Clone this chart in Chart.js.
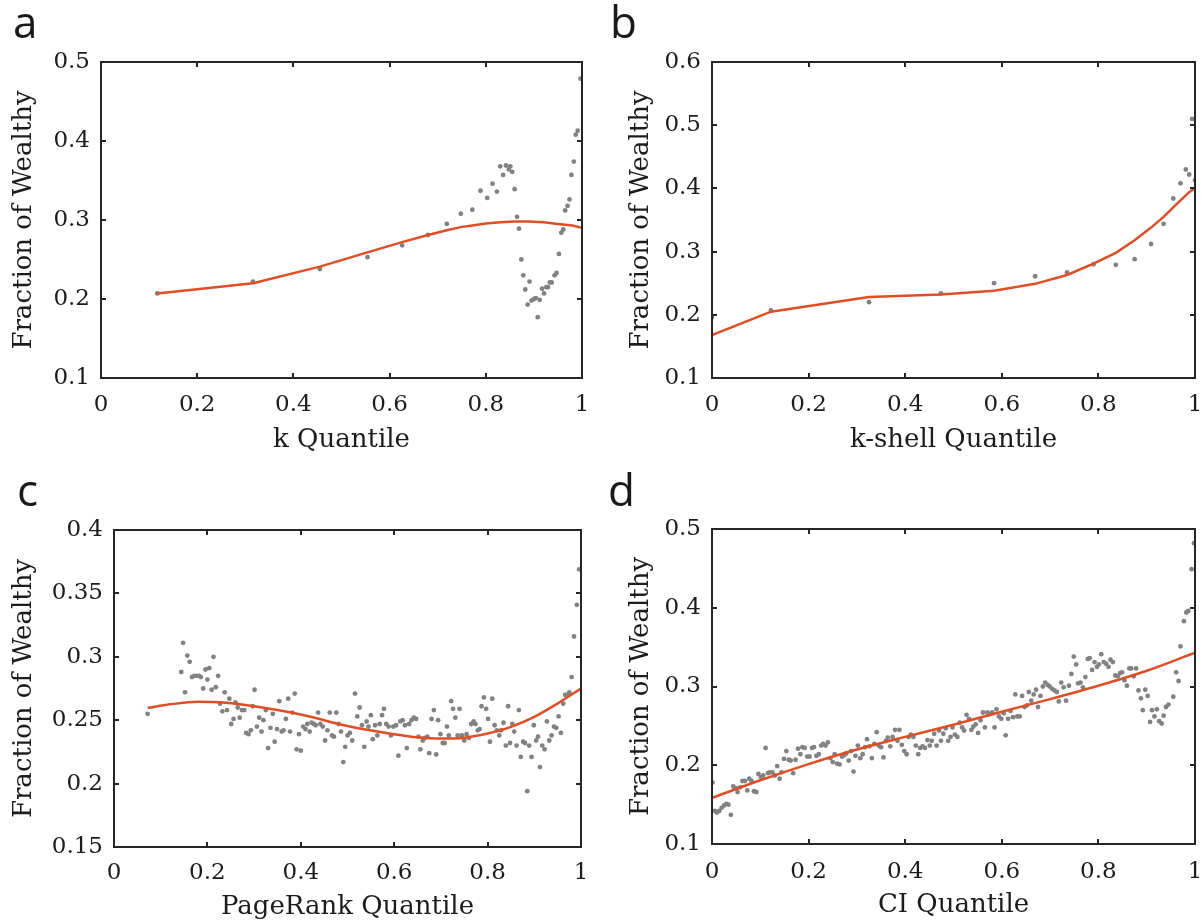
<!DOCTYPE html>
<html>
<head>
<meta charset="utf-8">
<script src="https://cdn.jsdelivr.net/npm/chart.js@4.4.1/dist/chart.umd.min.js"></script>
<style>
  html, body { margin:0; padding:0; background:#fff; }
  #wrap { position:relative; width:1202px; height:924px; overflow:hidden; }
  .panel { position:absolute; width:601px; height:462px; }
</style>
</head>
<body>
<div id="wrap">
  <div class="panel" style="left:0;top:0"><canvas id="pa" width="601" height="462"></canvas></div>
  <div class="panel" style="left:601px;top:0"><canvas id="pb" width="601" height="462"></canvas></div>
  <div class="panel" style="left:0;top:462px"><canvas id="pc" width="601" height="462"></canvas></div>
  <div class="panel" style="left:601px;top:462px"><canvas id="pd" width="601" height="462"></canvas></div>
</div>
<script>
/* ---------- data ---------- */

// a: degree k
const kQ = [0.117,0.316,0.455,0.554,0.626,0.680,0.719,0.748,0.772,0.789,0.803,0.814,0.823,0.830,0.836,0.842,0.848,0.851,0.855,0.860,0.865,0.869,0.874,0.878,0.882,0.887,0.891,0.895,0.900,0.904,0.908,0.912,0.917,0.921,0.926,0.929,0.933,0.937,0.943,0.947,0.952,0.957,0.961,0.965,0.970,0.974,0.978,0.983,0.987,0.991,0.997];
const kW = [0.207,0.222,0.238,0.253,0.268,0.281,0.295,0.308,0.313,0.337,0.328,0.346,0.336,0.368,0.357,0.369,0.364,0.368,0.361,0.339,0.304,0.289,0.250,0.230,0.212,0.193,0.222,0.198,0.200,0.201,0.177,0.199,0.213,0.207,0.215,0.215,0.221,0.221,0.230,0.233,0.257,0.284,0.288,0.312,0.318,0.326,0.357,0.374,0.408,0.413,0.479];
const kFitQ = [0.117,0.316,0.455,0.554,0.626,0.680,0.719,0.748,0.772,0.800,0.830,0.860,0.890,0.920,0.950,0.980,1.0];
const kFitW = [0.207,0.220,0.241,0.259,0.272,0.281,0.287,0.291,0.293,0.2955,0.297,0.298,0.298,0.297,0.295,0.293,0.290];

// b: k-shell
const shellQ = [0,0.122,0.325,0.474,0.584,0.669,0.735,0.790,0.836,0.875,0.909,0.935,0.955,0.970,0.981,0.988,0.994,1.0];
const shellW = [0.196,0.207,0.220,0.234,0.250,0.261,0.267,0.280,0.279,0.288,0.312,0.344,0.384,0.408,0.430,0.422,0.510,0.413];
const shellFitQ = [0,0.122,0.325,0.474,0.584,0.669,0.735,0.790,0.836,0.875,0.909,0.935,0.955,0.970,0.981,0.988,0.995,1.0];
const shellFitW = [0.168,0.205,0.228,0.232,0.238,0.249,0.263,0.281,0.298,0.318,0.338,0.355,0.370,0.381,0.389,0.394,0.398,0.401];

// c: PageRank
const prQ = [0.072,0.144,0.148,0.152,0.157,0.162,0.167,0.172,0.177,0.182,0.186,0.191,0.196,0.200,0.204,0.209,0.213,0.218,0.223,0.227,
  0.232,0.237,0.242,0.247,0.251,0.256,0.260,0.265,0.269,0.274,0.279,0.283,0.288,0.293,0.297,0.301,0.306,0.311,0.316,0.320,
  0.325,0.330,0.335,0.340,0.344,0.349,0.354,0.359,0.363,0.368,0.373,0.377,0.382,0.387,0.391,0.396,0.400,0.405,0.410,0.414,
  0.419,0.423,0.428,0.432,0.437,0.442,0.447,0.452,0.457,0.462,0.467,0.471,0.476,0.481,0.486,0.491,0.495,0.500,0.505,0.510,
  0.516,0.521,0.526,0.531,0.536,0.541,0.545,0.550,0.554,0.559,0.564,0.569,0.574,0.578,0.583,0.588,0.593,0.598,0.604,0.609,
  0.613,0.618,0.623,0.627,0.632,0.637,0.642,0.647,0.652,0.656,0.661,0.666,0.671,0.675,0.680,0.685,0.690,0.694,0.699,0.704,
  0.708,0.713,0.717,0.722,0.726,0.731,0.736,0.740,0.745,0.750,0.755,0.760,0.765,0.770,0.774,0.779,0.783,0.787,0.792,0.797,
  0.801,0.805,0.810,0.815,0.820,0.825,0.829,0.834,0.839,0.844,0.848,0.853,0.857,0.862,0.867,0.871,0.876,0.880,0.885,0.889,
  0.894,0.899,0.904,0.908,0.912,0.917,0.922,0.927,0.932,0.937,0.942,0.947,0.952,0.957,0.962,0.966,0.971,0.975,0.980,0.985,
  0.991,0.996];
const prW = [0.255,0.288,0.311,0.272,0.301,0.296,0.284,0.285,0.285,0.285,0.284,0.275,0.290,0.282,0.291,0.274,0.300,0.276,0.285,0.263,
  0.257,0.272,0.258,0.267,0.247,0.251,0.264,0.260,0.252,0.258,0.258,0.240,0.239,0.242,0.261,0.274,0.245,0.252,0.241,0.250,
  0.258,0.228,0.244,0.255,0.233,0.243,0.265,0.241,0.242,0.251,0.267,0.241,0.256,0.271,0.227,0.239,0.226,0.245,0.243,0.247,
  0.241,0.248,0.247,0.246,0.256,0.247,0.245,0.234,0.242,0.256,0.238,0.237,0.256,0.247,0.241,0.217,0.229,0.238,0.240,0.234,
  0.271,0.253,0.260,0.246,0.229,0.249,0.245,0.254,0.235,0.246,0.238,0.247,0.254,0.259,0.247,0.245,0.238,0.245,0.246,0.222,
  0.249,0.250,0.246,0.228,0.247,0.250,0.252,0.251,0.237,0.227,0.234,0.236,0.237,0.224,0.251,0.258,0.223,0.250,0.239,0.232,
  0.232,0.245,0.238,0.265,0.259,0.252,0.238,0.259,0.238,0.234,0.239,0.236,0.247,0.249,0.247,0.242,0.243,0.261,0.268,0.259,
  0.251,0.233,0.267,0.246,0.242,0.238,0.242,0.248,0.230,0.261,0.232,0.247,0.241,0.230,0.258,0.221,0.233,0.232,0.194,0.230,
  0.221,0.246,0.234,0.237,0.213,0.230,0.227,0.249,0.234,0.238,0.245,0.244,0.253,0.240,0.263,0.270,0.270,0.272,0.284,0.316,
  0.341,0.369];
const prFitQ = [0.072,0.12,0.18,0.24,0.30,0.40,0.50,0.60,0.65,0.70,0.75,0.80,0.85,0.90,0.95,1.0];
const prFitW = [0.2597,0.2625,0.2645,0.2638,0.2610,0.2545,0.2455,0.2390,0.2365,0.2355,0.2362,0.2395,0.2447,0.2526,0.2632,0.2750];

// d: CI
const ciQ = [0.001,0.006,0.010,0.015,0.020,0.025,0.030,0.034,0.039,0.044,0.049,0.053,0.058,0.063,0.068,0.073,0.077,0.082,0.087,0.092,
  0.096,0.101,0.106,0.111,0.116,0.120,0.125,0.130,0.135,0.140,0.144,0.149,0.154,0.159,0.163,0.168,0.173,0.178,0.183,0.187,
  0.192,0.197,0.202,0.207,0.211,0.216,0.221,0.226,0.230,0.235,0.240,0.245,0.250,0.254,0.259,0.264,0.269,0.274,0.278,0.283,
  0.288,0.293,0.297,0.302,0.307,0.312,0.317,0.321,0.326,0.331,0.336,0.341,0.345,0.350,0.355,0.360,0.364,0.369,0.374,0.379,
  0.384,0.388,0.393,0.398,0.403,0.407,0.412,0.417,0.422,0.427,0.431,0.436,0.441,0.446,0.451,0.455,0.460,0.465,0.470,0.474,
  0.479,0.484,0.489,0.494,0.498,0.503,0.508,0.513,0.518,0.522,0.527,0.532,0.537,0.541,0.546,0.551,0.556,0.561,0.565,0.570,
  0.575,0.580,0.585,0.589,0.594,0.599,0.604,0.608,0.613,0.618,0.623,0.628,0.632,0.637,0.642,0.647,0.652,0.656,0.661,0.666,
  0.671,0.675,0.680,0.685,0.690,0.695,0.699,0.704,0.709,0.714,0.718,0.723,0.728,0.733,0.739,0.744,0.749,0.754,0.758,0.763,
  0.768,0.773,0.778,0.782,0.787,0.792,0.797,0.801,0.806,0.811,0.816,0.821,0.825,0.830,0.835,0.840,0.845,0.849,0.854,0.859,
  0.864,0.868,0.873,0.878,0.883,0.888,0.892,0.897,0.902,0.907,0.911,0.916,0.921,0.926,0.931,0.935,0.940,0.945,0.955,0.961,
  0.966,0.970,0.977,0.982,0.986,0.993,0.998];
const ciW = [0.178,0.142,0.140,0.142,0.146,0.149,0.151,0.150,0.137,0.173,0.171,0.166,0.172,0.180,0.180,0.168,0.183,0.180,0.167,0.166,
  0.189,0.185,0.187,0.222,0.190,0.191,0.191,0.187,0.199,0.183,0.191,0.208,0.218,0.207,0.206,0.190,0.207,0.221,0.214,0.223,
  0.222,0.211,0.211,0.222,0.223,0.212,0.214,0.225,0.227,0.225,0.229,0.209,0.204,0.214,0.202,0.201,0.211,0.213,0.215,0.206,
  0.218,0.192,0.212,0.225,0.209,0.214,0.223,0.233,0.224,0.209,0.227,0.242,0.225,0.223,0.210,0.231,0.235,0.224,0.236,0.245,
  0.231,0.245,0.226,0.218,0.214,0.236,0.239,0.236,0.225,0.214,0.222,0.224,0.222,0.232,0.225,0.231,0.240,0.225,0.244,0.231,
  0.240,0.247,0.231,0.236,0.248,0.239,0.236,0.254,0.248,0.244,0.264,0.259,0.245,0.249,0.252,0.241,0.257,0.267,0.248,0.267,
  0.265,0.267,0.248,0.271,0.262,0.259,0.266,0.238,0.259,0.269,0.261,0.290,0.262,0.262,0.288,0.274,0.276,0.293,0.282,0.290,
  0.296,0.274,0.288,0.300,0.305,0.302,0.300,0.297,0.295,0.293,0.281,0.305,0.299,0.282,0.301,0.316,0.338,0.328,0.304,0.305,
  0.299,0.312,0.335,0.336,0.321,0.331,0.325,0.328,0.341,0.331,0.329,0.325,0.334,0.331,0.314,0.313,0.317,0.318,0.308,0.301,
  0.323,0.323,0.313,0.323,0.295,0.285,0.270,0.296,0.288,0.255,0.270,0.262,0.271,0.256,0.253,0.263,0.274,0.277,0.287,0.318,
  0.307,0.351,0.383,0.394,0.396,0.449,0.482];
const ciFitQ = [0,0.1,0.2,0.3,0.4,0.5,0.6,0.7,0.8,0.9,1.0];
const ciFitW = [0.1585,0.181,0.2015,0.220,0.236,0.2515,0.268,0.284,0.301,0.320,0.343];

// tick labels
const quantileTicks = [0,0.2,0.4,0.6,0.8,1];
const aYTicks = [0.1,0.2,0.3,0.4,0.5];
const bYTicks = [0.1,0.2,0.3,0.4,0.5,0.6];
const cYTicks = [0.15,0.2,0.25,0.3,0.35,0.4];
const dYTicks = [0.1,0.2,0.3,0.4,0.5];

/* ---------- style ---------- */
const INK = "#1c1c1c";
const DOT = "#828282";
const FIT = "#E04E25";
const TICK = 5;
const SERIF = "'DejaVu Serif', serif";
const TICK_PX = 23, TITLE_PX = 26;

function zip(xs, ys){ return xs.map((x,i)=>({x, y: ys[i]})); }

// box + inward ticks on all four sides, plus the panel letter
const frameBox = {
  id: "frameBox",
  afterDraw(c, args, o){
    const g = c.ctx, a = c.chartArea, sx = c.scales.x, sy = c.scales.y;
    g.save();
    g.strokeStyle = "#262626";
    g.lineWidth = 2;
    g.beginPath();
    sx.ticks.forEach(t=>{
      const p = Math.round(sx.getPixelForValue(t.value));
      g.moveTo(p, a.bottom); g.lineTo(p, a.bottom - TICK);
      g.moveTo(p, a.top);    g.lineTo(p, a.top + TICK);
    });
    sy.ticks.forEach(t=>{
      const p = Math.round(sy.getPixelForValue(t.value));
      g.moveTo(a.left, p);  g.lineTo(a.left + TICK, p);
      g.moveTo(a.right, p); g.lineTo(a.right - TICK, p);
    });
    g.stroke();
    g.strokeRect(a.left, a.top, a.right - a.left, a.bottom - a.top);
    g.fillStyle = "#1a1a1a";
    g.font = "44px 'Open Sans'";
    g.textBaseline = "alphabetic";
    g.fillText(o.letter, o.lx, o.ly);
    g.restore();
  }
};

function makePanel(p){
  const W = 601, H = 462;
  return new Chart(document.getElementById(p.id), {
    type: "scatter",
    data: {
      datasets: [
        { data: zip(p.fitX, p.fitY), showLine: true, borderColor: FIT, borderWidth: 2.5,
          pointRadius: 0, tension: p.smooth ? 0.4 : 0, cubicInterpolationMode: p.smooth ? "monotone" : "default" },
        { data: zip(p.dotX, p.dotY), pointRadius: 2.4, pointBackgroundColor: DOT, pointBorderWidth: 0, showLine: false }
      ]
    },
    options: {
      responsive: false,
      animation: false,
      devicePixelRatio: 1,
      events: [],
      layout: { padding: { left: 0, top: p.area.t, right: W - p.area.r, bottom: 0 } },
      plugins: {
        legend: { display: false },
        tooltip: { enabled: false },
        frameBox: { letter: p.letter, lx: p.lx, ly: p.ly }
      },
      scales: {
        x: {
          type: "linear", min: 0, max: 1,
          grid: { display: false, drawTicks: false },
          border: { display: false },
          afterBuildTicks: s => { s.ticks = quantileTicks.map(v=>({value: v})); },
          afterFit: s => { s.height = H - p.area.b; s.paddingLeft = 0; s.paddingRight = 0; },
          ticks: { autoSkip: false, maxRotation: 0, padding: p.xTickPad, color: INK,
                   font: { family: SERIF, size: TICK_PX }, callback: v => String(v) },
          title: { display: true, text: p.xTitle, color: INK, padding: { top: 0, bottom: p.xTitlePad },
                   font: { family: SERIF, size: TITLE_PX } }
        },
        y: {
          type: "linear", min: p.yTicks[0], max: p.yTicks[p.yTicks.length - 1],
          grid: { display: false, drawTicks: false },
          border: { display: false },
          afterBuildTicks: s => { s.ticks = p.yTicks.map(v=>({value: v})); },
          afterFit: s => { s.width = p.area.l; s.paddingTop = 0; s.paddingBottom = 0; },
          ticks: { autoSkip: false, padding: 11, color: INK,
                   font: { family: SERIF, size: TICK_PX }, callback: v => String(v) },
          title: { display: true, text: "Fraction of Wealthy", color: INK, padding: { top: p.yTitlePad, bottom: 0 },
                   font: { family: SERIF, size: TITLE_PX } }
        }
      }
    },
    plugins: [frameBox]
  });
}

/* ---------- boot ---------- */
makePanel({ id:"pa", letter:"a", lx:13, ly:38, area:{l:101, t:62, r:582, b:378},
  yTicks:aYTicks, xTitle:"k Quantile", dotX:kQ, dotY:kW, fitX:kFitQ, fitY:kFitW,
  yTitlePad:9, xTitlePad:6, xTickPad:13, smooth:false });

makePanel({ id:"pb", letter:"b", lx:9, ly:38, area:{l:111, t:62, r:594, b:378},
  yTicks:bYTicks, xTitle:"k-shell Quantile", dotX:shellQ, dotY:shellW, fitX:shellFitQ, fitY:shellFitW,
  yTitlePad:25, xTitlePad:6, xTickPad:13, smooth:false });

makePanel({ id:"pc", letter:"c", lx:17, ly:44, area:{l:114, t:68, r:581, b:385},
  yTicks:cYTicks, xTitle:"PageRank Quantile", dotX:prQ, dotY:prW, fitX:prFitQ, fitY:prFitW,
  yTitlePad:9, xTitlePad:1, xTickPad:12, smooth:true });

makePanel({ id:"pd", letter:"d", lx:7, ly:44, area:{l:111, t:67, r:594, b:382},
  yTicks:dYTicks, xTitle:"CI Quantile", dotX:ciQ, dotY:ciW, fitX:ciFitQ, fitY:ciFitW,
  yTitlePad:25, xTitlePad:3, xTickPad:14, smooth:true });
</script>
</body>
</html>
